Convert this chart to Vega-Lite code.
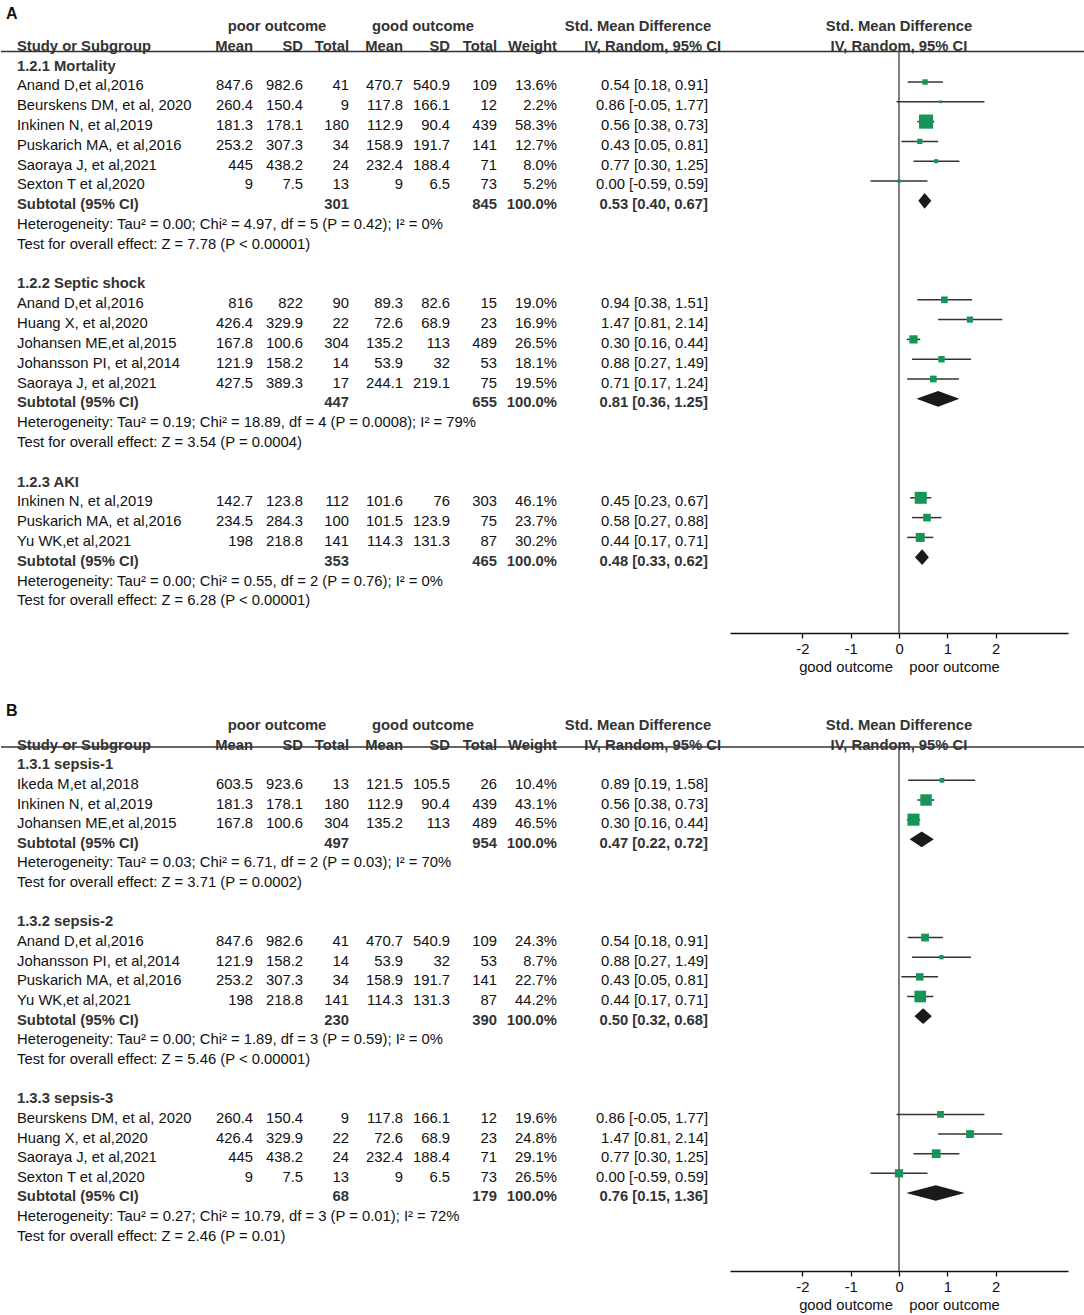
{
"$schema": "https://vega.github.io/schema/vega-lite/v6.json",
"padding": 0,
"spacing": 62,
"bounds": "flush",
"config": {"view": {"stroke": null}, "text": {"font": "Liberation Sans", "fontSize": 14.8, "baseline": "middle", "dy": 4.5, "color": "#111"}},
"datasets": {
"hdr": [
{"row":-2,"col":10,"label":"poor outcome"},
{"row":-2,"col":11,"label":"good outcome"},
{"row":-2,"col":12,"label":"Std. Mean Difference"},
{"row":-2,"col":14,"label":"Std. Mean Difference"},
{"row":-1,"col":0,"label":"Study or Subgroup"},
{"row":-1,"col":1,"label":"Mean"},
{"row":-1,"col":2,"label":"SD"},
{"row":-1,"col":3,"label":"Total"},
{"row":-1,"col":4,"label":"Mean"},
{"row":-1,"col":5,"label":"SD"},
{"row":-1,"col":6,"label":"Total"},
{"row":-1,"col":7,"label":"Weight"},
{"row":-1,"col":9,"label":"IV, Random, 95% CI"},
{"row":-1,"col":14,"label":"IV, Random, 95% CI"}
],
"A": [
{"kind":"l","row":-3,"study":"A"},
{"kind":"g","row":0,"study":"1.2.1 Mortality"},
{"kind":"s","row":1,"study":"Anand D,et al,2016","m1":847.6,"sd1":982.6,"n1":41,"m2":470.7,"sd2":540.9,"n2":109,"w":0.136,"ci":"0.54 [0.18, 0.91]","smd":0.54,"lo":0.18,"hi":0.91},
{"kind":"s","row":2,"study":"Beurskens DM, et al, 2020","m1":260.4,"sd1":150.4,"n1":9,"m2":117.8,"sd2":166.1,"n2":12,"w":0.022,"ci":"0.86 [-0.05, 1.77]","smd":0.86,"lo":-0.05,"hi":1.77},
{"kind":"s","row":3,"study":"Inkinen N, et al,2019","m1":181.3,"sd1":178.1,"n1":180,"m2":112.9,"sd2":90.4,"n2":439,"w":0.583,"ci":"0.56 [0.38, 0.73]","smd":0.56,"lo":0.38,"hi":0.73},
{"kind":"s","row":4,"study":"Puskarich MA, et al,2016","m1":253.2,"sd1":307.3,"n1":34,"m2":158.9,"sd2":191.7,"n2":141,"w":0.127,"ci":"0.43 [0.05, 0.81]","smd":0.43,"lo":0.05,"hi":0.81},
{"kind":"s","row":5,"study":"Saoraya J, et al,2021","m1":445,"sd1":438.2,"n1":24,"m2":232.4,"sd2":188.4,"n2":71,"w":0.08,"ci":"0.77 [0.30, 1.25]","smd":0.77,"lo":0.30,"hi":1.25},
{"kind":"s","row":6,"study":"Sexton T et al,2020","m1":9,"sd1":7.5,"n1":13,"m2":9,"sd2":6.5,"n2":73,"w":0.052,"ci":"0.00 [-0.59, 0.59]","smd":0.0,"lo":-0.59,"hi":0.59},
{"kind":"t","row":7,"study":"Subtotal (95% CI)","n1":301,"n2":845,"w":1,"ci":"0.53 [0.40, 0.67]","smd":0.53,"lo":0.40,"hi":0.67},
{"kind":"h","row":8,"study":"Heterogeneity: Tau² = 0.00; Chi² = 4.97, df = 5 (P = 0.42); I² = 0%"},
{"kind":"z","row":9,"study":"Test for overall effect: Z = 7.78 (P < 0.00001)"},
{"kind":"g","row":11,"study":"1.2.2 Septic shock"},
{"kind":"s","row":12,"study":"Anand D,et al,2016","m1":816,"sd1":822,"n1":90,"m2":89.3,"sd2":82.6,"n2":15,"w":0.19,"ci":"0.94 [0.38, 1.51]","smd":0.94,"lo":0.38,"hi":1.51},
{"kind":"s","row":13,"study":"Huang X, et al,2020","m1":426.4,"sd1":329.9,"n1":22,"m2":72.6,"sd2":68.9,"n2":23,"w":0.169,"ci":"1.47 [0.81, 2.14]","smd":1.47,"lo":0.81,"hi":2.14},
{"kind":"s","row":14,"study":"Johansen ME,et al,2015","m1":167.8,"sd1":100.6,"n1":304,"m2":135.2,"sd2":113,"n2":489,"w":0.265,"ci":"0.30 [0.16, 0.44]","smd":0.30,"lo":0.16,"hi":0.44},
{"kind":"s","row":15,"study":"Johansson PI, et al,2014","m1":121.9,"sd1":158.2,"n1":14,"m2":53.9,"sd2":32,"n2":53,"w":0.181,"ci":"0.88 [0.27, 1.49]","smd":0.88,"lo":0.27,"hi":1.49},
{"kind":"s","row":16,"study":"Saoraya J, et al,2021","m1":427.5,"sd1":389.3,"n1":17,"m2":244.1,"sd2":219.1,"n2":75,"w":0.195,"ci":"0.71 [0.17, 1.24]","smd":0.71,"lo":0.17,"hi":1.24},
{"kind":"t","row":17,"study":"Subtotal (95% CI)","n1":447,"n2":655,"w":1,"ci":"0.81 [0.36, 1.25]","smd":0.81,"lo":0.36,"hi":1.25},
{"kind":"h","row":18,"study":"Heterogeneity: Tau² = 0.19; Chi² = 18.89, df = 4 (P = 0.0008); I² = 79%"},
{"kind":"z","row":19,"study":"Test for overall effect: Z = 3.54 (P = 0.0004)"},
{"kind":"g","row":21,"study":"1.2.3 AKI"},
{"kind":"s","row":22,"study":"Inkinen N, et al,2019","m1":142.7,"sd1":123.8,"n1":112,"m2":101.6,"sd2":76,"n2":303,"w":0.461,"ci":"0.45 [0.23, 0.67]","smd":0.45,"lo":0.23,"hi":0.67},
{"kind":"s","row":23,"study":"Puskarich MA, et al,2016","m1":234.5,"sd1":284.3,"n1":100,"m2":101.5,"sd2":123.9,"n2":75,"w":0.237,"ci":"0.58 [0.27, 0.88]","smd":0.58,"lo":0.27,"hi":0.88},
{"kind":"s","row":24,"study":"Yu WK,et al,2021","m1":198,"sd1":218.8,"n1":141,"m2":114.3,"sd2":131.3,"n2":87,"w":0.302,"ci":"0.44 [0.17, 0.71]","smd":0.44,"lo":0.17,"hi":0.71},
{"kind":"t","row":25,"study":"Subtotal (95% CI)","n1":353,"n2":465,"w":1,"ci":"0.48 [0.33, 0.62]","smd":0.48,"lo":0.33,"hi":0.62},
{"kind":"h","row":26,"study":"Heterogeneity: Tau² = 0.00; Chi² = 0.55, df = 2 (P = 0.76); I² = 0%"},
{"kind":"z","row":27,"study":"Test for overall effect: Z = 6.28 (P < 0.00001)"}
],
"B": [
{"kind":"l","row":-3,"study":"B"},
{"kind":"g","row":0,"study":"1.3.1 sepsis-1"},
{"kind":"s","row":1,"study":"Ikeda M,et al,2018","m1":603.5,"sd1":923.6,"n1":13,"m2":121.5,"sd2":105.5,"n2":26,"w":0.104,"ci":"0.89 [0.19, 1.58]","smd":0.89,"lo":0.19,"hi":1.58},
{"kind":"s","row":2,"study":"Inkinen N, et al,2019","m1":181.3,"sd1":178.1,"n1":180,"m2":112.9,"sd2":90.4,"n2":439,"w":0.431,"ci":"0.56 [0.38, 0.73]","smd":0.56,"lo":0.38,"hi":0.73},
{"kind":"s","row":3,"study":"Johansen ME,et al,2015","m1":167.8,"sd1":100.6,"n1":304,"m2":135.2,"sd2":113,"n2":489,"w":0.465,"ci":"0.30 [0.16, 0.44]","smd":0.30,"lo":0.16,"hi":0.44},
{"kind":"t","row":4,"study":"Subtotal (95% CI)","n1":497,"n2":954,"w":1,"ci":"0.47 [0.22, 0.72]","smd":0.47,"lo":0.22,"hi":0.72},
{"kind":"h","row":5,"study":"Heterogeneity: Tau² = 0.03; Chi² = 6.71, df = 2 (P = 0.03); I² = 70%"},
{"kind":"z","row":6,"study":"Test for overall effect: Z = 3.71 (P = 0.0002)"},
{"kind":"g","row":8,"study":"1.3.2 sepsis-2"},
{"kind":"s","row":9,"study":"Anand D,et al,2016","m1":847.6,"sd1":982.6,"n1":41,"m2":470.7,"sd2":540.9,"n2":109,"w":0.243,"ci":"0.54 [0.18, 0.91]","smd":0.54,"lo":0.18,"hi":0.91},
{"kind":"s","row":10,"study":"Johansson PI, et al,2014","m1":121.9,"sd1":158.2,"n1":14,"m2":53.9,"sd2":32,"n2":53,"w":0.087,"ci":"0.88 [0.27, 1.49]","smd":0.88,"lo":0.27,"hi":1.49},
{"kind":"s","row":11,"study":"Puskarich MA, et al,2016","m1":253.2,"sd1":307.3,"n1":34,"m2":158.9,"sd2":191.7,"n2":141,"w":0.227,"ci":"0.43 [0.05, 0.81]","smd":0.43,"lo":0.05,"hi":0.81},
{"kind":"s","row":12,"study":"Yu WK,et al,2021","m1":198,"sd1":218.8,"n1":141,"m2":114.3,"sd2":131.3,"n2":87,"w":0.442,"ci":"0.44 [0.17, 0.71]","smd":0.44,"lo":0.17,"hi":0.71},
{"kind":"t","row":13,"study":"Subtotal (95% CI)","n1":230,"n2":390,"w":1,"ci":"0.50 [0.32, 0.68]","smd":0.50,"lo":0.32,"hi":0.68},
{"kind":"h","row":14,"study":"Heterogeneity: Tau² = 0.00; Chi² = 1.89, df = 3 (P = 0.59); I² = 0%"},
{"kind":"z","row":15,"study":"Test for overall effect: Z = 5.46 (P < 0.00001)"},
{"kind":"g","row":17,"study":"1.3.3 sepsis-3"},
{"kind":"s","row":18,"study":"Beurskens DM, et al, 2020","m1":260.4,"sd1":150.4,"n1":9,"m2":117.8,"sd2":166.1,"n2":12,"w":0.196,"ci":"0.86 [-0.05, 1.77]","smd":0.86,"lo":-0.05,"hi":1.77},
{"kind":"s","row":19,"study":"Huang X, et al,2020","m1":426.4,"sd1":329.9,"n1":22,"m2":72.6,"sd2":68.9,"n2":23,"w":0.248,"ci":"1.47 [0.81, 2.14]","smd":1.47,"lo":0.81,"hi":2.14},
{"kind":"s","row":20,"study":"Saoraya J, et al,2021","m1":445,"sd1":438.2,"n1":24,"m2":232.4,"sd2":188.4,"n2":71,"w":0.291,"ci":"0.77 [0.30, 1.25]","smd":0.77,"lo":0.30,"hi":1.25},
{"kind":"s","row":21,"study":"Sexton T et al,2020","m1":9,"sd1":7.5,"n1":13,"m2":9,"sd2":6.5,"n2":73,"w":0.265,"ci":"0.00 [-0.59, 0.59]","smd":0.0,"lo":-0.59,"hi":0.59},
{"kind":"t","row":22,"study":"Subtotal (95% CI)","n1":68,"n2":179,"w":1,"ci":"0.76 [0.15, 1.36]","smd":0.76,"lo":0.15,"hi":1.36},
{"kind":"h","row":23,"study":"Heterogeneity: Tau² = 0.27; Chi² = 10.79, df = 3 (P = 0.01); I² = 72%"},
{"kind":"z","row":24,"study":"Test for overall effect: Z = 2.46 (P = 0.01)"}
]
},
"vconcat": [
{
"width": 1084, "height": 633,
"data": {"name": "A"},
"layer": [
{"encoding": {"y": {"field": "row", "type": "quantitative", "scale": {"domain": [-3.141, 28.828], "reverse": true, "zero": false, "nice": false}, "axis": null}},
"layer": [
{"transform":[{"filter":"datum.kind==='s'||datum.kind==='h'||datum.kind==='z'"}],"mark":{"type":"text","align":"left"},"encoding":{"x":{"datum":0,"type":"quantitative","scale":{"domain":[0,1,2,3,4,5,6,7,8,9,10,11,12,13],"range":[16,252,302,348,402,449,496,556,707,720,276,422,637,5],"zero":false,"nice":false},"axis":null},"text":{"field":"study","type":"nominal"}}},
{"transform":[{"filter":"datum.kind==='g'||datum.kind==='t'"}],"mark":{"type":"text","align":"left","fontWeight":"bold","color":"#333"},"encoding":{"x":{"datum":0,"type":"quantitative","scale":{"domain":[0,1,2,3,4,5,6,7,8,9,10,11,12,13],"range":[16,252,302,348,402,449,496,556,707,720,276,422,637,5],"zero":false,"nice":false},"axis":null},"text":{"field":"study","type":"nominal"}}},
{"transform":[{"filter":"datum.kind==='l'"}],"mark":{"type":"text","align":"left","fontWeight":"bold","fontSize":16,"dy":11,"color":"#111"},"encoding":{"x":{"datum":13,"type":"quantitative","scale":{"domain":[0,1,2,3,4,5,6,7,8,9,10,11,12,13],"range":[16,252,302,348,402,449,496,556,707,720,276,422,637,5],"zero":false,"nice":false},"axis":null},"text":{"field":"study","type":"nominal"}}},
{"transform":[{"filter":"datum.kind==='s'"}],"mark":{"type":"text","align":"right"},"encoding":{"x":{"datum":1,"type":"quantitative","scale":{"domain":[0,1,2,3,4,5,6,7,8,9,10,11,12,13],"range":[16,252,302,348,402,449,496,556,707,720,276,422,637,5],"zero":false,"nice":false},"axis":null},"text":{"field":"m1","type":"nominal"}}},
{"transform":[{"filter":"datum.kind==='s'"}],"mark":{"type":"text","align":"right"},"encoding":{"x":{"datum":2,"type":"quantitative","scale":{"domain":[0,1,2,3,4,5,6,7,8,9,10,11,12,13],"range":[16,252,302,348,402,449,496,556,707,720,276,422,637,5],"zero":false,"nice":false},"axis":null},"text":{"field":"sd1","type":"nominal"}}},
{"transform":[{"filter":"datum.kind==='s'"}],"mark":{"type":"text","align":"right"},"encoding":{"x":{"datum":3,"type":"quantitative","scale":{"domain":[0,1,2,3,4,5,6,7,8,9,10,11,12,13],"range":[16,252,302,348,402,449,496,556,707,720,276,422,637,5],"zero":false,"nice":false},"axis":null},"text":{"field":"n1","type":"nominal"}}},
{"transform":[{"filter":"datum.kind==='s'"}],"mark":{"type":"text","align":"right"},"encoding":{"x":{"datum":4,"type":"quantitative","scale":{"domain":[0,1,2,3,4,5,6,7,8,9,10,11,12,13],"range":[16,252,302,348,402,449,496,556,707,720,276,422,637,5],"zero":false,"nice":false},"axis":null},"text":{"field":"m2","type":"nominal"}}},
{"transform":[{"filter":"datum.kind==='s'"}],"mark":{"type":"text","align":"right"},"encoding":{"x":{"datum":5,"type":"quantitative","scale":{"domain":[0,1,2,3,4,5,6,7,8,9,10,11,12,13],"range":[16,252,302,348,402,449,496,556,707,720,276,422,637,5],"zero":false,"nice":false},"axis":null},"text":{"field":"sd2","type":"nominal"}}},
{"transform":[{"filter":"datum.kind==='s'"}],"mark":{"type":"text","align":"right"},"encoding":{"x":{"datum":6,"type":"quantitative","scale":{"domain":[0,1,2,3,4,5,6,7,8,9,10,11,12,13],"range":[16,252,302,348,402,449,496,556,707,720,276,422,637,5],"zero":false,"nice":false},"axis":null},"text":{"field":"n2","type":"nominal"}}},
{"transform":[{"filter":"datum.kind==='s'"}],"mark":{"type":"text","align":"right"},"encoding":{"x":{"datum":7,"type":"quantitative","scale":{"domain":[0,1,2,3,4,5,6,7,8,9,10,11,12,13],"range":[16,252,302,348,402,449,496,556,707,720,276,422,637,5],"zero":false,"nice":false},"axis":null},"text":{"field":"w","type":"quantitative","format":".1%"}}},
{"transform":[{"filter":"datum.kind==='s'"}],"mark":{"type":"text","align":"right"},"encoding":{"x":{"datum":8,"type":"quantitative","scale":{"domain":[0,1,2,3,4,5,6,7,8,9,10,11,12,13],"range":[16,252,302,348,402,449,496,556,707,720,276,422,637,5],"zero":false,"nice":false},"axis":null},"text":{"field":"ci","type":"nominal"}}},
{"transform":[{"filter":"datum.kind==='t'"}],"mark":{"type":"text","align":"right","fontWeight":"bold","color":"#333"},"encoding":{"x":{"datum":3,"type":"quantitative","scale":{"domain":[0,1,2,3,4,5,6,7,8,9,10,11,12,13],"range":[16,252,302,348,402,449,496,556,707,720,276,422,637,5],"zero":false,"nice":false},"axis":null},"text":{"field":"n1","type":"nominal"}}},
{"transform":[{"filter":"datum.kind==='t'"}],"mark":{"type":"text","align":"right","fontWeight":"bold","color":"#333"},"encoding":{"x":{"datum":6,"type":"quantitative","scale":{"domain":[0,1,2,3,4,5,6,7,8,9,10,11,12,13],"range":[16,252,302,348,402,449,496,556,707,720,276,422,637,5],"zero":false,"nice":false},"axis":null},"text":{"field":"n2","type":"nominal"}}},
{"transform":[{"filter":"datum.kind==='t'"}],"mark":{"type":"text","align":"right","fontWeight":"bold","color":"#333"},"encoding":{"x":{"datum":7,"type":"quantitative","scale":{"domain":[0,1,2,3,4,5,6,7,8,9,10,11,12,13],"range":[16,252,302,348,402,449,496,556,707,720,276,422,637,5],"zero":false,"nice":false},"axis":null},"text":{"field":"w","type":"quantitative","format":".1%"}}},
{"transform":[{"filter":"datum.kind==='t'"}],"mark":{"type":"text","align":"right","fontWeight":"bold","color":"#333"},"encoding":{"x":{"datum":8,"type":"quantitative","scale":{"domain":[0,1,2,3,4,5,6,7,8,9,10,11,12,13],"range":[16,252,302,348,402,449,496,556,707,720,276,422,637,5],"zero":false,"nice":false},"axis":null},"text":{"field":"ci","type":"nominal"}}},
{"data":{"name":"hdr"},"transform":[{"filter":"datum.col===0"}],"mark":{"type":"text","align":"left","fontWeight":"bold","color":"#333"},"encoding":{"x":{"field":"col","type":"quantitative","scale":{"domain":[0,1,2,3,4,5,6,7,8,9,10,11,12,13],"range":[16,252,302,348,402,449,496,556,707,720,276,422,637,5],"zero":false,"nice":false},"axis":null},"text":{"field":"label","type":"nominal"}}},
{"data":{"name":"hdr"},"transform":[{"filter":"datum.col>=1&&datum.col<=9"}],"mark":{"type":"text","align":"right","fontWeight":"bold","color":"#333"},"encoding":{"x":{"field":"col","type":"quantitative","scale":{"domain":[0,1,2,3,4,5,6,7,8,9,10,11,12,13],"range":[16,252,302,348,402,449,496,556,707,720,276,422,637,5],"zero":false,"nice":false},"axis":null},"text":{"field":"label","type":"nominal"}}},
{"data":{"name":"hdr"},"transform":[{"filter":"datum.col>=10&&datum.col<=12"}],"mark":{"type":"text","align":"center","fontWeight":"bold","color":"#333"},"encoding":{"x":{"field":"col","type":"quantitative","scale":{"domain":[0,1,2,3,4,5,6,7,8,9,10,11,12,13],"range":[16,252,302,348,402,449,496,556,707,720,276,422,637,5],"zero":false,"nice":false},"axis":null},"text":{"field":"label","type":"nominal"}}}
]},
{"layer": [
{"data":{"values":[{}]},"mark":{"type":"rule","color":"#333","strokeWidth":1.5},"encoding":{"y":{"datum":-0.54,"type":"quantitative","scale":{"domain":[-3.141,28.828],"reverse":true,"zero":false,"nice":false},"axis":null}}},
{"data":{"values":[{}]},"mark":{"type":"rule","color":"#555","strokeWidth":1.5},"encoding":{"x":{"datum":0,"type":"quantitative","scale":{"domain":[-3.5,3.5],"range":[729,1067],"zero":false,"nice":false},"axis":{"values":[-2,-1,0,1,2],"labelExpr":"''+datum.value","title":"good outcome\u00a0\u00a0\u00a0\u00a0poor outcome\u00a0\u00a0","grid":false,"domainColor":"#111","domainWidth":1.3,"tickColor":"#111","tickWidth":1.3,"tickSize":5,"labelFont":"Liberation Sans","labelFontSize":14.8,"labelColor":"#111","labelPadding":3,"titleFont":"Liberation Sans","titleFontSize":14.8,"titleFontWeight":"normal","titleColor":"#111","titlePadding":4}},"y":{"datum":-0.54,"type":"quantitative","scale":{"domain":[-3.141,28.828],"reverse":true,"zero":false,"nice":false},"axis":null},"y2":{"datum":28.828}}},
{"transform":[{"filter":"datum.kind==='s'"}],"mark":{"type":"rule","color":"#333","strokeWidth":1.5},"encoding":{"x":{"field":"lo","type":"quantitative","scale":{"domain":[-3.5,3.5],"range":[729,1067],"zero":false,"nice":false},"axis":{"values":[-2,-1,0,1,2],"labelExpr":"''+datum.value","title":"good outcome\u00a0\u00a0\u00a0\u00a0poor outcome\u00a0\u00a0","grid":false,"domainColor":"#111","domainWidth":1.3,"tickColor":"#111","tickWidth":1.3,"tickSize":5,"labelFont":"Liberation Sans","labelFontSize":14.8,"labelColor":"#111","labelPadding":3,"titleFont":"Liberation Sans","titleFontSize":14.8,"titleFontWeight":"normal","titleColor":"#111","titlePadding":4}},"x2":{"field":"hi"},"y":{"field":"row","type":"quantitative","scale":{"domain":[-3.141,28.828],"reverse":true,"zero":false,"nice":false},"axis":null}}},
{"transform":[{"filter":"datum.kind==='s'"}],"mark":{"type":"point","shape":"square","filled":true,"color":"#179556","opacity":1},"encoding":{"x":{"field":"smd","type":"quantitative","scale":{"domain":[-3.5,3.5],"range":[729,1067],"zero":false,"nice":false},"axis":{"values":[-2,-1,0,1,2],"labelExpr":"''+datum.value","title":"good outcome\u00a0\u00a0\u00a0\u00a0poor outcome\u00a0\u00a0","grid":false,"domainColor":"#111","domainWidth":1.3,"tickColor":"#111","tickWidth":1.3,"tickSize":5,"labelFont":"Liberation Sans","labelFontSize":14.8,"labelColor":"#111","labelPadding":3,"titleFont":"Liberation Sans","titleFontSize":14.8,"titleFontWeight":"normal","titleColor":"#111","titlePadding":4}},"y":{"field":"row","type":"quantitative","scale":{"domain":[-3.141,28.828],"reverse":true,"zero":false,"nice":false},"axis":null},"size":{"field":"w","type":"quantitative","scale":{"type":"pow","exponent":1.45,"domain":[0,0.583],"range":[6,200]},"legend":null}}},
{"transform":[{"filter":"datum.kind==='t'"},{"fold":["lo","smd","hi"],"as":["pt","xv"]},{"calculate":"datum.pt==='smd' ? datum.row-0.4 : datum.row","as":"ytop"},{"calculate":"datum.pt==='smd' ? datum.row+0.4 : datum.row","as":"ybot"}],"mark":{"type":"area","orient":"vertical","color":"#1a1a1a","opacity":1},"encoding":{"x":{"field":"xv","type":"quantitative","scale":{"domain":[-3.5,3.5],"range":[729,1067],"zero":false,"nice":false},"axis":{"values":[-2,-1,0,1,2],"labelExpr":"''+datum.value","title":"good outcome\u00a0\u00a0\u00a0\u00a0poor outcome\u00a0\u00a0","grid":false,"domainColor":"#111","domainWidth":1.3,"tickColor":"#111","tickWidth":1.3,"tickSize":5,"labelFont":"Liberation Sans","labelFontSize":14.8,"labelColor":"#111","labelPadding":3,"titleFont":"Liberation Sans","titleFontSize":14.8,"titleFontWeight":"normal","titleColor":"#111","titlePadding":4}},"y":{"field":"ytop","type":"quantitative","scale":{"domain":[-3.141,28.828],"reverse":true,"zero":false,"nice":false},"axis":null},"y2":{"field":"ybot"},"detail":{"field":"row","type":"nominal"}}},
{"data":{"name":"hdr"},"transform":[{"filter":"datum.col===14"}],"mark":{"type":"text","align":"center","fontWeight":"bold","color":"#333"},"encoding":{"x":{"datum":0,"type":"quantitative","scale":{"domain":[-3.5,3.5],"range":[729,1067],"zero":false,"nice":false},"axis":{"values":[-2,-1,0,1,2],"labelExpr":"''+datum.value","title":"good outcome\u00a0\u00a0\u00a0\u00a0poor outcome\u00a0\u00a0","grid":false,"domainColor":"#111","domainWidth":1.3,"tickColor":"#111","tickWidth":1.3,"tickSize":5,"labelFont":"Liberation Sans","labelFontSize":14.8,"labelColor":"#111","labelPadding":3,"titleFont":"Liberation Sans","titleFontSize":14.8,"titleFontWeight":"normal","titleColor":"#111","titlePadding":4}},"y":{"field":"row","type":"quantitative","scale":{"domain":[-3.141,28.828],"reverse":true,"zero":false,"nice":false},"axis":null},"text":{"field":"label","type":"nominal"}}}
]}
],
"resolve": {"scale": {"x": "independent"}}
},
{
"width": 1084, "height": 576,
"data": {"name": "B"},
"layer": [
{"encoding": {"y": {"field": "row", "type": "quantitative", "scale": {"domain": [-3.344, 25.97], "reverse": true, "zero": false, "nice": false}, "axis": null}},
"layer": [
{"transform":[{"filter":"datum.kind==='s'||datum.kind==='h'||datum.kind==='z'"}],"mark":{"type":"text","align":"left"},"encoding":{"x":{"datum":0,"type":"quantitative","scale":{"domain":[0,1,2,3,4,5,6,7,8,9,10,11,12,13],"range":[16,252,302,348,402,449,496,556,707,720,276,422,637,5],"zero":false,"nice":false},"axis":null},"text":{"field":"study","type":"nominal"}}},
{"transform":[{"filter":"datum.kind==='g'||datum.kind==='t'"}],"mark":{"type":"text","align":"left","fontWeight":"bold","color":"#333"},"encoding":{"x":{"datum":0,"type":"quantitative","scale":{"domain":[0,1,2,3,4,5,6,7,8,9,10,11,12,13],"range":[16,252,302,348,402,449,496,556,707,720,276,422,637,5],"zero":false,"nice":false},"axis":null},"text":{"field":"study","type":"nominal"}}},
{"transform":[{"filter":"datum.kind==='l'"}],"mark":{"type":"text","align":"left","fontWeight":"bold","fontSize":16,"dy":9,"color":"#111"},"encoding":{"x":{"datum":13,"type":"quantitative","scale":{"domain":[0,1,2,3,4,5,6,7,8,9,10,11,12,13],"range":[16,252,302,348,402,449,496,556,707,720,276,422,637,5],"zero":false,"nice":false},"axis":null},"text":{"field":"study","type":"nominal"}}},
{"transform":[{"filter":"datum.kind==='s'"}],"mark":{"type":"text","align":"right"},"encoding":{"x":{"datum":1,"type":"quantitative","scale":{"domain":[0,1,2,3,4,5,6,7,8,9,10,11,12,13],"range":[16,252,302,348,402,449,496,556,707,720,276,422,637,5],"zero":false,"nice":false},"axis":null},"text":{"field":"m1","type":"nominal"}}},
{"transform":[{"filter":"datum.kind==='s'"}],"mark":{"type":"text","align":"right"},"encoding":{"x":{"datum":2,"type":"quantitative","scale":{"domain":[0,1,2,3,4,5,6,7,8,9,10,11,12,13],"range":[16,252,302,348,402,449,496,556,707,720,276,422,637,5],"zero":false,"nice":false},"axis":null},"text":{"field":"sd1","type":"nominal"}}},
{"transform":[{"filter":"datum.kind==='s'"}],"mark":{"type":"text","align":"right"},"encoding":{"x":{"datum":3,"type":"quantitative","scale":{"domain":[0,1,2,3,4,5,6,7,8,9,10,11,12,13],"range":[16,252,302,348,402,449,496,556,707,720,276,422,637,5],"zero":false,"nice":false},"axis":null},"text":{"field":"n1","type":"nominal"}}},
{"transform":[{"filter":"datum.kind==='s'"}],"mark":{"type":"text","align":"right"},"encoding":{"x":{"datum":4,"type":"quantitative","scale":{"domain":[0,1,2,3,4,5,6,7,8,9,10,11,12,13],"range":[16,252,302,348,402,449,496,556,707,720,276,422,637,5],"zero":false,"nice":false},"axis":null},"text":{"field":"m2","type":"nominal"}}},
{"transform":[{"filter":"datum.kind==='s'"}],"mark":{"type":"text","align":"right"},"encoding":{"x":{"datum":5,"type":"quantitative","scale":{"domain":[0,1,2,3,4,5,6,7,8,9,10,11,12,13],"range":[16,252,302,348,402,449,496,556,707,720,276,422,637,5],"zero":false,"nice":false},"axis":null},"text":{"field":"sd2","type":"nominal"}}},
{"transform":[{"filter":"datum.kind==='s'"}],"mark":{"type":"text","align":"right"},"encoding":{"x":{"datum":6,"type":"quantitative","scale":{"domain":[0,1,2,3,4,5,6,7,8,9,10,11,12,13],"range":[16,252,302,348,402,449,496,556,707,720,276,422,637,5],"zero":false,"nice":false},"axis":null},"text":{"field":"n2","type":"nominal"}}},
{"transform":[{"filter":"datum.kind==='s'"}],"mark":{"type":"text","align":"right"},"encoding":{"x":{"datum":7,"type":"quantitative","scale":{"domain":[0,1,2,3,4,5,6,7,8,9,10,11,12,13],"range":[16,252,302,348,402,449,496,556,707,720,276,422,637,5],"zero":false,"nice":false},"axis":null},"text":{"field":"w","type":"quantitative","format":".1%"}}},
{"transform":[{"filter":"datum.kind==='s'"}],"mark":{"type":"text","align":"right"},"encoding":{"x":{"datum":8,"type":"quantitative","scale":{"domain":[0,1,2,3,4,5,6,7,8,9,10,11,12,13],"range":[16,252,302,348,402,449,496,556,707,720,276,422,637,5],"zero":false,"nice":false},"axis":null},"text":{"field":"ci","type":"nominal"}}},
{"transform":[{"filter":"datum.kind==='t'"}],"mark":{"type":"text","align":"right","fontWeight":"bold","color":"#333"},"encoding":{"x":{"datum":3,"type":"quantitative","scale":{"domain":[0,1,2,3,4,5,6,7,8,9,10,11,12,13],"range":[16,252,302,348,402,449,496,556,707,720,276,422,637,5],"zero":false,"nice":false},"axis":null},"text":{"field":"n1","type":"nominal"}}},
{"transform":[{"filter":"datum.kind==='t'"}],"mark":{"type":"text","align":"right","fontWeight":"bold","color":"#333"},"encoding":{"x":{"datum":6,"type":"quantitative","scale":{"domain":[0,1,2,3,4,5,6,7,8,9,10,11,12,13],"range":[16,252,302,348,402,449,496,556,707,720,276,422,637,5],"zero":false,"nice":false},"axis":null},"text":{"field":"n2","type":"nominal"}}},
{"transform":[{"filter":"datum.kind==='t'"}],"mark":{"type":"text","align":"right","fontWeight":"bold","color":"#333"},"encoding":{"x":{"datum":7,"type":"quantitative","scale":{"domain":[0,1,2,3,4,5,6,7,8,9,10,11,12,13],"range":[16,252,302,348,402,449,496,556,707,720,276,422,637,5],"zero":false,"nice":false},"axis":null},"text":{"field":"w","type":"quantitative","format":".1%"}}},
{"transform":[{"filter":"datum.kind==='t'"}],"mark":{"type":"text","align":"right","fontWeight":"bold","color":"#333"},"encoding":{"x":{"datum":8,"type":"quantitative","scale":{"domain":[0,1,2,3,4,5,6,7,8,9,10,11,12,13],"range":[16,252,302,348,402,449,496,556,707,720,276,422,637,5],"zero":false,"nice":false},"axis":null},"text":{"field":"ci","type":"nominal"}}},
{"data":{"name":"hdr"},"transform":[{"filter":"datum.col===0"}],"mark":{"type":"text","align":"left","fontWeight":"bold","color":"#333"},"encoding":{"x":{"field":"col","type":"quantitative","scale":{"domain":[0,1,2,3,4,5,6,7,8,9,10,11,12,13],"range":[16,252,302,348,402,449,496,556,707,720,276,422,637,5],"zero":false,"nice":false},"axis":null},"text":{"field":"label","type":"nominal"}}},
{"data":{"name":"hdr"},"transform":[{"filter":"datum.col>=1&&datum.col<=9"}],"mark":{"type":"text","align":"right","fontWeight":"bold","color":"#333"},"encoding":{"x":{"field":"col","type":"quantitative","scale":{"domain":[0,1,2,3,4,5,6,7,8,9,10,11,12,13],"range":[16,252,302,348,402,449,496,556,707,720,276,422,637,5],"zero":false,"nice":false},"axis":null},"text":{"field":"label","type":"nominal"}}},
{"data":{"name":"hdr"},"transform":[{"filter":"datum.col>=10&&datum.col<=12"}],"mark":{"type":"text","align":"center","fontWeight":"bold","color":"#333"},"encoding":{"x":{"field":"col","type":"quantitative","scale":{"domain":[0,1,2,3,4,5,6,7,8,9,10,11,12,13],"range":[16,252,302,348,402,449,496,556,707,720,276,422,637,5],"zero":false,"nice":false},"axis":null},"text":{"field":"label","type":"nominal"}}}
]},
{"layer": [
{"data":{"values":[{}]},"mark":{"type":"rule","color":"#333","strokeWidth":1.5},"encoding":{"y":{"datum":-0.7,"type":"quantitative","scale":{"domain":[-3.344,25.97],"reverse":true,"zero":false,"nice":false},"axis":null}}},
{"data":{"values":[{}]},"mark":{"type":"rule","color":"#555","strokeWidth":1.5},"encoding":{"x":{"datum":0,"type":"quantitative","scale":{"domain":[-3.5,3.5],"range":[729,1067],"zero":false,"nice":false},"axis":{"values":[-2,-1,0,1,2],"labelExpr":"''+datum.value","title":"good outcome\u00a0\u00a0\u00a0\u00a0poor outcome\u00a0\u00a0","grid":false,"domainColor":"#111","domainWidth":1.3,"tickColor":"#111","tickWidth":1.3,"tickSize":5,"labelFont":"Liberation Sans","labelFontSize":14.8,"labelColor":"#111","labelPadding":3,"titleFont":"Liberation Sans","titleFontSize":14.8,"titleFontWeight":"normal","titleColor":"#111","titlePadding":4}},"y":{"datum":-0.7,"type":"quantitative","scale":{"domain":[-3.344,25.97],"reverse":true,"zero":false,"nice":false},"axis":null},"y2":{"datum":25.97}}},
{"transform":[{"filter":"datum.kind==='s'"}],"mark":{"type":"rule","color":"#333","strokeWidth":1.5},"encoding":{"x":{"field":"lo","type":"quantitative","scale":{"domain":[-3.5,3.5],"range":[729,1067],"zero":false,"nice":false},"axis":{"values":[-2,-1,0,1,2],"labelExpr":"''+datum.value","title":"good outcome\u00a0\u00a0\u00a0\u00a0poor outcome\u00a0\u00a0","grid":false,"domainColor":"#111","domainWidth":1.3,"tickColor":"#111","tickWidth":1.3,"tickSize":5,"labelFont":"Liberation Sans","labelFontSize":14.8,"labelColor":"#111","labelPadding":3,"titleFont":"Liberation Sans","titleFontSize":14.8,"titleFontWeight":"normal","titleColor":"#111","titlePadding":4}},"x2":{"field":"hi"},"y":{"field":"row","type":"quantitative","scale":{"domain":[-3.344,25.97],"reverse":true,"zero":false,"nice":false},"axis":null}}},
{"transform":[{"filter":"datum.kind==='s'"}],"mark":{"type":"point","shape":"square","filled":true,"color":"#179556","opacity":1},"encoding":{"x":{"field":"smd","type":"quantitative","scale":{"domain":[-3.5,3.5],"range":[729,1067],"zero":false,"nice":false},"axis":{"values":[-2,-1,0,1,2],"labelExpr":"''+datum.value","title":"good outcome\u00a0\u00a0\u00a0\u00a0poor outcome\u00a0\u00a0","grid":false,"domainColor":"#111","domainWidth":1.3,"tickColor":"#111","tickWidth":1.3,"tickSize":5,"labelFont":"Liberation Sans","labelFontSize":14.8,"labelColor":"#111","labelPadding":3,"titleFont":"Liberation Sans","titleFontSize":14.8,"titleFontWeight":"normal","titleColor":"#111","titlePadding":4}},"y":{"field":"row","type":"quantitative","scale":{"domain":[-3.344,25.97],"reverse":true,"zero":false,"nice":false},"axis":null},"size":{"field":"w","type":"quantitative","scale":{"type":"pow","exponent":1.45,"domain":[0,0.583],"range":[6,200]},"legend":null}}},
{"transform":[{"filter":"datum.kind==='t'"},{"fold":["lo","smd","hi"],"as":["pt","xv"]},{"calculate":"datum.pt==='smd' ? datum.row-0.4 : datum.row","as":"ytop"},{"calculate":"datum.pt==='smd' ? datum.row+0.4 : datum.row","as":"ybot"}],"mark":{"type":"area","orient":"vertical","color":"#1a1a1a","opacity":1},"encoding":{"x":{"field":"xv","type":"quantitative","scale":{"domain":[-3.5,3.5],"range":[729,1067],"zero":false,"nice":false},"axis":{"values":[-2,-1,0,1,2],"labelExpr":"''+datum.value","title":"good outcome\u00a0\u00a0\u00a0\u00a0poor outcome\u00a0\u00a0","grid":false,"domainColor":"#111","domainWidth":1.3,"tickColor":"#111","tickWidth":1.3,"tickSize":5,"labelFont":"Liberation Sans","labelFontSize":14.8,"labelColor":"#111","labelPadding":3,"titleFont":"Liberation Sans","titleFontSize":14.8,"titleFontWeight":"normal","titleColor":"#111","titlePadding":4}},"y":{"field":"ytop","type":"quantitative","scale":{"domain":[-3.344,25.97],"reverse":true,"zero":false,"nice":false},"axis":null},"y2":{"field":"ybot"},"detail":{"field":"row","type":"nominal"}}},
{"data":{"name":"hdr"},"transform":[{"filter":"datum.col===14"}],"mark":{"type":"text","align":"center","fontWeight":"bold","color":"#333"},"encoding":{"x":{"datum":0,"type":"quantitative","scale":{"domain":[-3.5,3.5],"range":[729,1067],"zero":false,"nice":false},"axis":{"values":[-2,-1,0,1,2],"labelExpr":"''+datum.value","title":"good outcome\u00a0\u00a0\u00a0\u00a0poor outcome\u00a0\u00a0","grid":false,"domainColor":"#111","domainWidth":1.3,"tickColor":"#111","tickWidth":1.3,"tickSize":5,"labelFont":"Liberation Sans","labelFontSize":14.8,"labelColor":"#111","labelPadding":3,"titleFont":"Liberation Sans","titleFontSize":14.8,"titleFontWeight":"normal","titleColor":"#111","titlePadding":4}},"y":{"field":"row","type":"quantitative","scale":{"domain":[-3.344,25.97],"reverse":true,"zero":false,"nice":false},"axis":null},"text":{"field":"label","type":"nominal"}}}
]}
],
"resolve": {"scale": {"x": "independent"}}
}
]
}
